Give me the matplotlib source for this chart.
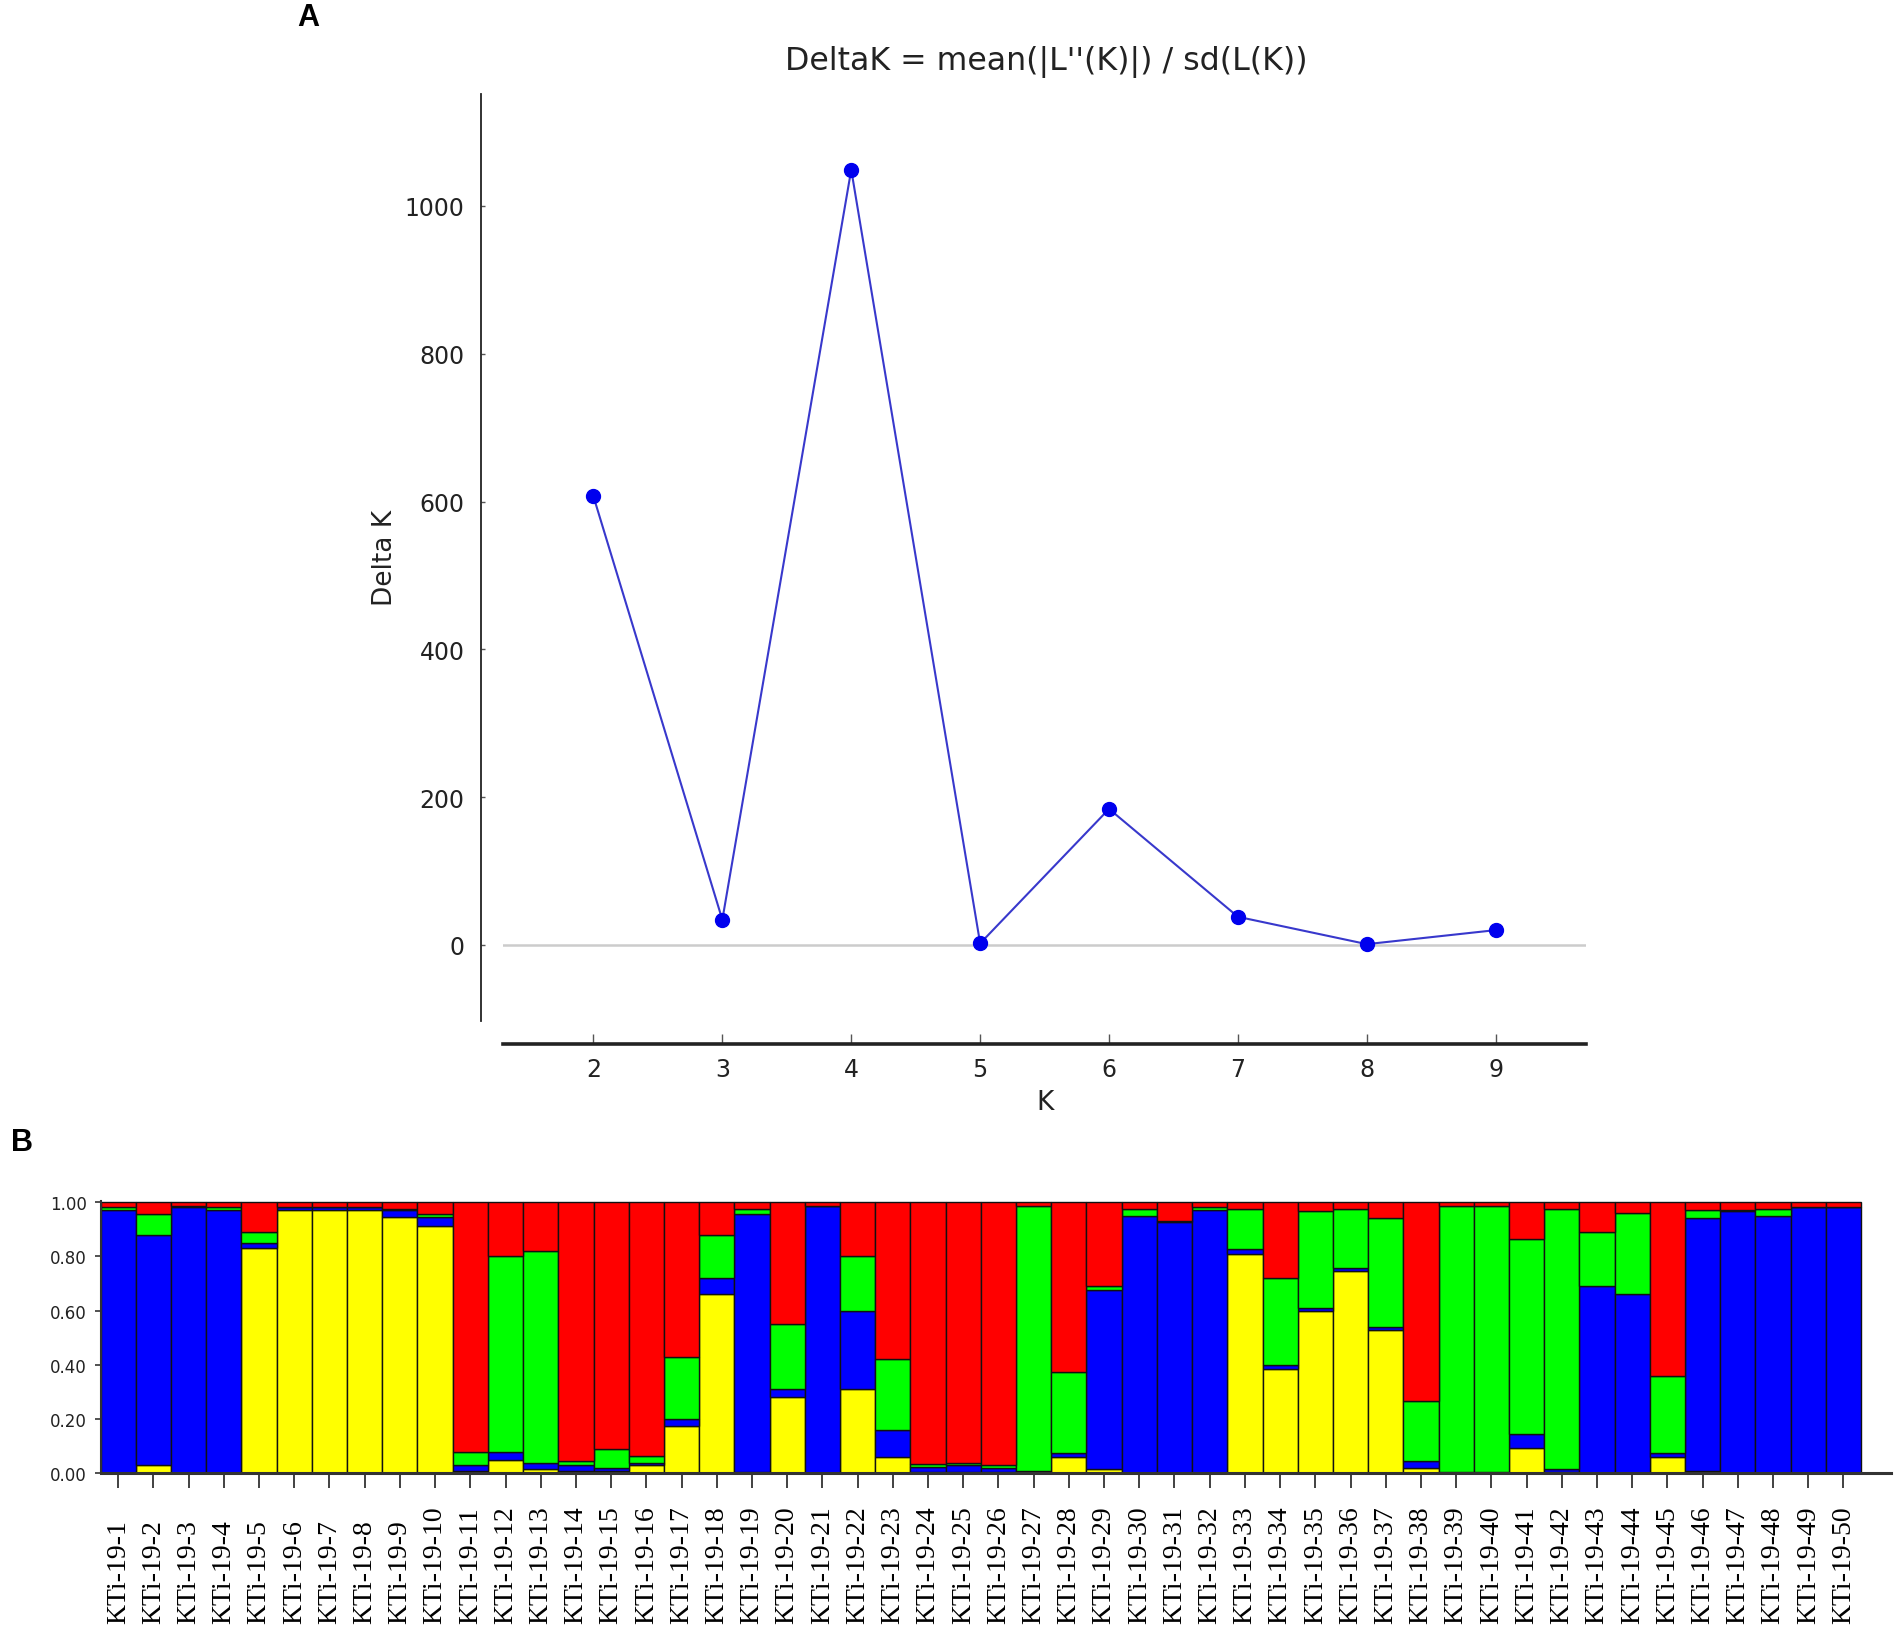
import matplotlib
matplotlib.use("Agg")
import matplotlib.pyplot as plt
import numpy as np

# ---- Panel A data ----
k_values = [2, 3, 4, 5, 6, 7, 8, 9]
delta_k = [607, 34, 1049, 2, 184, 38, 1, 20]
a_yticks = [0, 200, 400, 600, 800, 1000]

# ---- Panel B data ----
samples = [f"KTi-19-{i}" for i in range(1, 51)]
yellow = [0.00, 0.03, 0.00, 0.00, 0.83, 0.97, 0.97, 0.97, 0.945, 0.91,
          0.01, 0.05, 0.015, 0.01, 0.01, 0.03, 0.175, 0.66, 0.005, 0.28,
          0.00, 0.31, 0.06, 0.005, 0.005, 0.005, 0.005, 0.06, 0.015, 0.00,
          0.00, 0.00, 0.81, 0.385, 0.60, 0.745, 0.53, 0.02, 0.00, 0.00,
          0.095, 0.005, 0.00, 0.00, 0.06, 0.01, 0.00, 0.00, 0.00, 0.00]
blue = [0.97, 0.85, 0.98, 0.97, 0.02, 0.01, 0.01, 0.01, 0.025, 0.035,
        0.02, 0.03, 0.025, 0.02, 0.01, 0.01, 0.025, 0.06, 0.95, 0.03,
        0.985, 0.29, 0.10, 0.02, 0.025, 0.015, 0.005, 0.015, 0.66, 0.95,
        0.925, 0.97, 0.015, 0.015, 0.01, 0.01, 0.01, 0.025, 0.005, 0.005,
        0.05, 0.01, 0.69, 0.66, 0.015, 0.93, 0.965, 0.95, 0.98, 0.98]
green = [0.01, 0.075, 0.005, 0.01, 0.04, 0.00, 0.00, 0.00, 0.005, 0.01,
         0.05, 0.72, 0.78, 0.015, 0.07, 0.025, 0.23, 0.16, 0.02, 0.24,
         0.00, 0.20, 0.26, 0.01, 0.01, 0.01, 0.975, 0.30, 0.015, 0.025,
         0.005, 0.01, 0.15, 0.32, 0.355, 0.22, 0.40, 0.22, 0.98, 0.98,
         0.72, 0.96, 0.20, 0.30, 0.285, 0.03, 0.005, 0.025, 0.00, 0.00]
red = [0.02, 0.045, 0.015, 0.02, 0.11, 0.02, 0.02, 0.02, 0.025, 0.045,
       0.92, 0.20, 0.18, 0.955, 0.91, 0.935, 0.57, 0.12, 0.025, 0.45,
       0.015, 0.20, 0.58, 0.965, 0.96, 0.97, 0.015, 0.625, 0.31, 0.025,
       0.07, 0.02, 0.025, 0.28, 0.035, 0.025, 0.06, 0.735, 0.015, 0.015,
       0.135, 0.025, 0.11, 0.04, 0.64, 0.03, 0.03, 0.025, 0.02, 0.02]
b_yticks = [0.0, 0.2, 0.4, 0.6, 0.8, 1.0]
b_yticklabels = ["0.00", "0.20", "0.40", "0.60", "0.80", "1.00"]

plt.rcParams['font.family'] = ['DejaVu Sans']

W, H = 1901, 1633
fig = plt.figure(figsize=(W / 100, H / 100), dpi=100)

# ---------------- Panel A ----------------
ax = fig.add_axes([503.2 / W, 1 - 1022 / H, (1586 - 503.2) / W, (1022 - 94.6) / H])
ax.axhline(0, color='#cccccc', lw=1.8, zorder=1)
ax.plot(k_values, delta_k, color='#3838cc', lw=1.5, marker='o',
        markersize=10, markerfacecolor='#0000ee', markeredgecolor='#0000ee', zorder=3)
ax.set_xlim(1.3, 9.7)
ax.set_ylim(-103, 1152)
ax.set_xticks(k_values)
ax.set_yticks(a_yticks)
for s in ['top', 'right']:
    ax.spines[s].set_visible(False)
ax.spines['left'].set_position(('outward', 15.7))
ax.spines['bottom'].set_position(('outward', 16.6))
ax.spines['left'].set_color('#222222')
ax.spines['left'].set_linewidth(1.3)
ax.spines['bottom'].set_color('#222222')
ax.spines['bottom'].set_linewidth(2.6)
ax.tick_params(axis='x', direction='in', length=7, width=1, color='#555555',
               labelsize=17, pad=9, labelcolor='#222222')
ax.tick_params(axis='y', direction='in', length=3, width=1, color='#555555',
               labelsize=17, pad=12, labelcolor='#222222')
ax.set_xlabel('K', fontsize=19, color='#222222')
ax.xaxis.set_label_coords(0.5004, -0.0733)
ax.set_ylabel('Delta K', fontsize=19, color='#222222')
ax.yaxis.set_label_coords(-0.0972, 0.5)
fig.text(1046 / W, 1 - 62 / H, "DeltaK = mean(|L''(K)|) / sd(L(K))",
         ha='center', va='center', fontsize=22.8, color='#222222')
fig.text(308 / W, 1 - 18 / H, 'A', ha='center', va='center',
         fontsize=22, fontweight='bold', family='Liberation Sans')

# ---------------- Panel B ----------------
bx = fig.add_axes([100.6 / W, 1 - 1474.4 / H, (1891 - 100.6) / W, (1474.4 - 1201.6) / H])
x = np.arange(len(samples))
bottom = np.zeros(len(samples))
for vals, col in [(yellow, '#ffff00'), (blue, '#0000ff'), (green, '#00ff00'), (red, '#ff0000')]:
    v = np.array(vals)
    bx.bar(x, v, bottom=bottom, width=1.0, color=col, edgecolor='#111111',
           linewidth=1.0, zorder=2)
    bottom = bottom + v
bx.set_xlim(-0.5, 50.35)
bx.set_ylim(0, 1.005)
bx.set_yticks(b_yticks)
bx.set_yticklabels(b_yticklabels)
bx.set_xticks(x)
bx.set_xticklabels(samples, rotation=90, family='Liberation Serif', fontsize=20,
                   va='bottom', ha='center')
for s in ['top', 'right']:
    bx.spines[s].set_visible(False)
bx.spines['left'].set_color('#333333')
bx.spines['bottom'].set_color('#333333')
bx.spines['left'].set_linewidth(1.5)
bx.spines['bottom'].set_linewidth(2.2)
bx.tick_params(axis='x', direction='out', length=10.5, width=1.3, color='#333333',
               pad=97)
bx.tick_params(axis='y', direction='out', length=4, width=1.2, color='#333333',
               labelsize=12, pad=6, labelcolor='#222222')
fig.text(22 / W, 1 - 1143 / H, 'B', ha='center', va='center',
         fontsize=22, fontweight='bold', family='Liberation Sans')

fig.savefig('out.png', dpi=100)
